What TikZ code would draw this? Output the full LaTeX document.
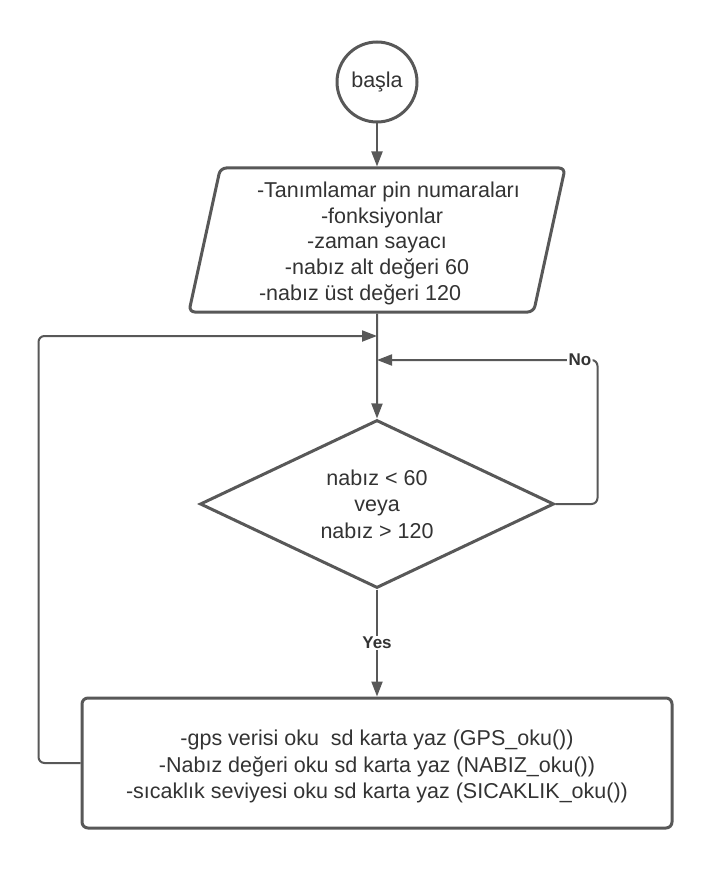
\documentclass[tikz,border=0pt]{standalone}
\usepackage{fontspec}
\setmainfont{Liberation Sans}
\usetikzlibrary{shapes.geometric,arrows.meta}
\definecolor{lc}{RGB}{88,88,88}
\definecolor{tc}{RGB}{51,51,51}
\begin{document}
\begin{tikzpicture}[x=1pt,y=-1pt,
  shapeline/.style={draw=lc,line width=3pt,text=tc,font=\fontsize{21.5}{26.5}\selectfont,align=center,inner sep=0pt},
  conn/.style={draw=lc,line width=2pt,-{Triangle[length=15pt,width=11pt]}},
  lbl/.style={fill=white,text=tc,font=\fontsize{17}{20}\selectfont\bfseries,inner sep=1.5pt}]
\useasboundingbox[fill=white] (0,0) rectangle (713,869);
\node[shapeline,circle,minimum size=80pt] (start) at (377,82) {başla};
\node[shapeline,trapezium,trapezium stretches=true,trapezium left angle=77.5,trapezium right angle=102.5,
      minimum width=378pt,minimum height=144pt,rounded corners=6pt,
      font=\fontsize{21.5}{25.75}\selectfont] (io) at (377,240)
  {\rule{0pt}{22pt}\hspace*{23pt}-Tanımlamar pin numaraları\\\hspace*{10pt}-fonksiyonlar\\-zaman sayacı\\-nabız alt değeri 60\hspace*{16pt}\\-nabız üst değeri 120\hspace*{34pt}};
\node[shapeline,diamond,aspect=2.1,minimum width=354pt,minimum height=168pt] (dec) at (377,504)
  {nabız < 60\\veya\\nabız > 120};
\node[shapeline,rectangle,rounded corners=6pt,minimum width=590pt,minimum height=130pt] (act) at (377,763)
  {\rule{0pt}{23pt}-gps verisi oku~~sd karta yaz (GPS\_oku())\\-Nabız değeri oku sd karta yaz (NABIZ\_oku())\\-sıcaklık seviyesi oku sd karta yaz (SICAKLIK\_oku())};
\coordinate (j1) at (377,336);
\coordinate (j2) at (377,360);
\draw[conn] (start) -- (io);
\draw[conn] (io) -- (dec);
\draw[conn] (dec) -- node[lbl]{Yes} (act);
\draw[conn,rounded corners=6pt] (act.west) -- ++(-42,0) |- (j1);
\draw[conn,rounded corners=6pt] (dec.east) -- ++(42,0) |- node[lbl,pos=0.54]{No} (j2);
\end{tikzpicture}
\end{document}
